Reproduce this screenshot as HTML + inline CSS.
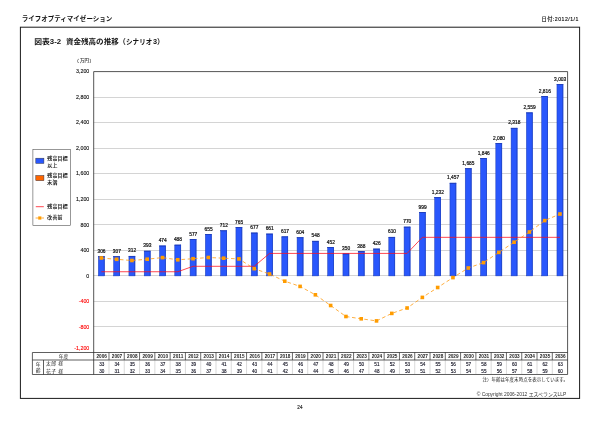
<!DOCTYPE html>
<html lang="ja"><head><meta charset="utf-8"><title>ライフオプティマイゼーション</title>
<style>html,body{margin:0;padding:0;background:#fff}body{width:600px;height:424px;overflow:hidden}svg{display:block}text{font-family:"Liberation Sans","Noto Sans CJK JP",sans-serif}</style>
</head><body>
<svg width="600" height="424" viewBox="0 0 600 424">
<rect width="600" height="424" fill="#fff"/>
<text x="21.7" y="20.9" font-size="6.7" font-weight="700" fill="#151515" textLength="90.6" lengthAdjust="spacingAndGlyphs">ライフオプティマイゼーション</text>
<text x="541.5" y="20.6" font-size="5.2" fill="#151515" stroke="#151515" stroke-width="0.15" textLength="36.9" lengthAdjust="spacing">日付:2012/1/1</text>
<rect x="20.4" y="27.2" width="559.2" height="371.2" fill="none" stroke="#1a1a1a" stroke-width="1"/>
<text y="44.4" font-size="7.3" font-weight="700" fill="#151515"><tspan x="34.2" textLength="26.9" lengthAdjust="spacingAndGlyphs">図表3-2</tspan><tspan x="65.9" textLength="52.9" lengthAdjust="spacingAndGlyphs">資金残高の推移</tspan><tspan x="118.4">（</tspan><tspan x="126.1" textLength="26.1" lengthAdjust="spacingAndGlyphs">シナリオ</tspan><tspan x="152.9">3</tspan><tspan x="157.0">）</tspan></text>
<text y="62.1" font-size="4.4" fill="#222" stroke="#222" stroke-width="0.1"><tspan x="74.6">（</tspan><tspan x="80.0">万円</tspan><tspan x="89.6">）</tspan></text>
<line x1="93.70" y1="97.50" x2="567.60" y2="97.50" stroke="#b0b0b0" stroke-width="0.55"/>
<line x1="93.70" y1="122.50" x2="567.60" y2="122.50" stroke="#b0b0b0" stroke-width="0.55"/>
<line x1="93.70" y1="148.50" x2="567.60" y2="148.50" stroke="#b0b0b0" stroke-width="0.55"/>
<line x1="93.70" y1="173.50" x2="567.60" y2="173.50" stroke="#b0b0b0" stroke-width="0.55"/>
<line x1="93.70" y1="199.50" x2="567.60" y2="199.50" stroke="#b0b0b0" stroke-width="0.55"/>
<line x1="93.70" y1="224.50" x2="567.60" y2="224.50" stroke="#b0b0b0" stroke-width="0.55"/>
<line x1="93.70" y1="250.50" x2="567.60" y2="250.50" stroke="#b0b0b0" stroke-width="0.55"/>
<line x1="93.70" y1="275.50" x2="567.60" y2="275.50" stroke="#b0b0b0" stroke-width="0.55"/>
<line x1="93.70" y1="301.50" x2="567.60" y2="301.50" stroke="#b0b0b0" stroke-width="0.55"/>
<line x1="93.70" y1="326.50" x2="567.60" y2="326.50" stroke="#b0b0b0" stroke-width="0.55"/>
<text x="89.3" y="73.30" font-size="5.3" fill="#111" stroke="#111" stroke-width="0.12" text-anchor="end">3,200</text>
<text x="89.3" y="98.84" font-size="5.3" fill="#111" stroke="#111" stroke-width="0.12" text-anchor="end">2,800</text>
<text x="89.3" y="124.37" font-size="5.3" fill="#111" stroke="#111" stroke-width="0.12" text-anchor="end">2,400</text>
<text x="89.3" y="149.91" font-size="5.3" fill="#111" stroke="#111" stroke-width="0.12" text-anchor="end">2,000</text>
<text x="89.3" y="175.45" font-size="5.3" fill="#111" stroke="#111" stroke-width="0.12" text-anchor="end">1,600</text>
<text x="89.3" y="200.98" font-size="5.3" fill="#111" stroke="#111" stroke-width="0.12" text-anchor="end">1,200</text>
<text x="89.3" y="226.52" font-size="5.3" fill="#111" stroke="#111" stroke-width="0.12" text-anchor="end">800</text>
<text x="89.3" y="252.05" font-size="5.3" fill="#111" stroke="#111" stroke-width="0.12" text-anchor="end">400</text>
<text x="89.3" y="277.59" font-size="5.3" fill="#111" stroke="#111" stroke-width="0.12" text-anchor="end">0</text>
<text x="89.3" y="303.13" font-size="5.3" fill="#f00" stroke="#f00" stroke-width="0.12" text-anchor="end">-400</text>
<text x="89.3" y="328.66" font-size="5.3" fill="#f00" stroke="#f00" stroke-width="0.12" text-anchor="end">-800</text>
<text x="89.3" y="349.90" font-size="5.3" fill="#f00" stroke="#f00" stroke-width="0.12" text-anchor="end">-1,200</text>
<rect x="98.34" y="256.61" width="6.00" height="19.29" fill="#2957fc" stroke="#1c3cb4" stroke-width="0.5"/>
<rect x="98.09" y="256.36" width="6.50" height="0.8" fill="#1838b8"/>
<rect x="103.79" y="256.36" width="0.8" height="19.54" fill="#1d44d0"/>
<text x="101.54" y="252.86" font-size="4.85" fill="#111" stroke="#111" stroke-width="0.2" text-anchor="middle">306</text>
<rect x="113.63" y="256.54" width="6.00" height="19.35" fill="#2957fc" stroke="#1c3cb4" stroke-width="0.5"/>
<rect x="113.38" y="256.29" width="6.50" height="0.8" fill="#1838b8"/>
<rect x="119.08" y="256.29" width="0.8" height="19.60" fill="#1d44d0"/>
<text x="116.83" y="252.79" font-size="4.85" fill="#111" stroke="#111" stroke-width="0.2" text-anchor="middle">307</text>
<rect x="128.92" y="256.22" width="6.00" height="19.67" fill="#2957fc" stroke="#1c3cb4" stroke-width="0.5"/>
<rect x="128.67" y="255.97" width="6.50" height="0.8" fill="#1838b8"/>
<rect x="134.37" y="255.97" width="0.8" height="19.92" fill="#1d44d0"/>
<text x="132.12" y="252.47" font-size="4.85" fill="#111" stroke="#111" stroke-width="0.2" text-anchor="middle">312</text>
<rect x="144.20" y="251.05" width="6.00" height="24.84" fill="#2957fc" stroke="#1c3cb4" stroke-width="0.5"/>
<rect x="143.95" y="250.80" width="6.50" height="0.8" fill="#1838b8"/>
<rect x="149.65" y="250.80" width="0.8" height="25.09" fill="#1d44d0"/>
<text x="147.40" y="247.30" font-size="4.85" fill="#111" stroke="#111" stroke-width="0.2" text-anchor="middle">393</text>
<rect x="159.49" y="245.88" width="6.00" height="30.01" fill="#2957fc" stroke="#1c3cb4" stroke-width="0.5"/>
<rect x="159.24" y="245.63" width="6.50" height="0.8" fill="#1838b8"/>
<rect x="164.94" y="245.63" width="0.8" height="30.26" fill="#1d44d0"/>
<text x="162.69" y="242.13" font-size="4.85" fill="#111" stroke="#111" stroke-width="0.2" text-anchor="middle">474</text>
<rect x="174.78" y="244.99" width="6.00" height="30.90" fill="#2957fc" stroke="#1c3cb4" stroke-width="0.5"/>
<rect x="174.53" y="244.74" width="6.50" height="0.8" fill="#1838b8"/>
<rect x="180.23" y="244.74" width="0.8" height="31.15" fill="#1d44d0"/>
<text x="177.98" y="241.24" font-size="4.85" fill="#111" stroke="#111" stroke-width="0.2" text-anchor="middle">488</text>
<rect x="190.07" y="239.30" width="6.00" height="36.59" fill="#2957fc" stroke="#1c3cb4" stroke-width="0.5"/>
<rect x="189.82" y="239.05" width="6.50" height="0.8" fill="#1838b8"/>
<rect x="195.52" y="239.05" width="0.8" height="36.84" fill="#1d44d0"/>
<text x="193.27" y="235.55" font-size="4.85" fill="#111" stroke="#111" stroke-width="0.2" text-anchor="middle">577</text>
<rect x="205.35" y="234.33" width="6.00" height="41.57" fill="#2957fc" stroke="#1c3cb4" stroke-width="0.5"/>
<rect x="205.10" y="234.08" width="6.50" height="0.8" fill="#1838b8"/>
<rect x="210.80" y="234.08" width="0.8" height="41.82" fill="#1d44d0"/>
<text x="208.55" y="230.58" font-size="4.85" fill="#111" stroke="#111" stroke-width="0.2" text-anchor="middle">655</text>
<rect x="220.64" y="230.69" width="6.00" height="45.20" fill="#2957fc" stroke="#1c3cb4" stroke-width="0.5"/>
<rect x="220.39" y="230.44" width="6.50" height="0.8" fill="#1838b8"/>
<rect x="226.09" y="230.44" width="0.8" height="45.45" fill="#1d44d0"/>
<text x="223.84" y="226.94" font-size="4.85" fill="#111" stroke="#111" stroke-width="0.2" text-anchor="middle">712</text>
<rect x="235.93" y="227.30" width="6.00" height="48.59" fill="#2957fc" stroke="#1c3cb4" stroke-width="0.5"/>
<rect x="235.68" y="227.05" width="6.50" height="0.8" fill="#1838b8"/>
<rect x="241.38" y="227.05" width="0.8" height="48.84" fill="#1d44d0"/>
<text x="239.13" y="223.55" font-size="4.85" fill="#111" stroke="#111" stroke-width="0.2" text-anchor="middle">765</text>
<rect x="251.21" y="232.92" width="6.00" height="42.97" fill="#2957fc" stroke="#1c3cb4" stroke-width="0.5"/>
<rect x="250.96" y="232.67" width="6.50" height="0.8" fill="#1838b8"/>
<rect x="256.66" y="232.67" width="0.8" height="43.22" fill="#1d44d0"/>
<text x="254.41" y="229.17" font-size="4.85" fill="#111" stroke="#111" stroke-width="0.2" text-anchor="middle">677</text>
<rect x="266.50" y="233.94" width="6.00" height="41.95" fill="#2957fc" stroke="#1c3cb4" stroke-width="0.5"/>
<rect x="266.25" y="233.69" width="6.50" height="0.8" fill="#1838b8"/>
<rect x="271.95" y="233.69" width="0.8" height="42.20" fill="#1d44d0"/>
<text x="269.70" y="230.19" font-size="4.85" fill="#111" stroke="#111" stroke-width="0.2" text-anchor="middle">661</text>
<rect x="281.79" y="236.75" width="6.00" height="39.14" fill="#2957fc" stroke="#1c3cb4" stroke-width="0.5"/>
<rect x="281.54" y="236.50" width="6.50" height="0.8" fill="#1838b8"/>
<rect x="287.24" y="236.50" width="0.8" height="39.39" fill="#1d44d0"/>
<text x="284.99" y="233.00" font-size="4.85" fill="#111" stroke="#111" stroke-width="0.2" text-anchor="middle">617</text>
<rect x="297.08" y="237.58" width="6.00" height="38.31" fill="#2957fc" stroke="#1c3cb4" stroke-width="0.5"/>
<rect x="296.83" y="237.33" width="6.50" height="0.8" fill="#1838b8"/>
<rect x="302.53" y="237.33" width="0.8" height="38.56" fill="#1d44d0"/>
<text x="300.28" y="233.83" font-size="4.85" fill="#111" stroke="#111" stroke-width="0.2" text-anchor="middle">604</text>
<rect x="312.36" y="241.16" width="6.00" height="34.73" fill="#2957fc" stroke="#1c3cb4" stroke-width="0.5"/>
<rect x="312.11" y="240.91" width="6.50" height="0.8" fill="#1838b8"/>
<rect x="317.81" y="240.91" width="0.8" height="34.98" fill="#1d44d0"/>
<text x="315.56" y="237.41" font-size="4.85" fill="#111" stroke="#111" stroke-width="0.2" text-anchor="middle">548</text>
<rect x="327.65" y="247.28" width="6.00" height="28.61" fill="#2957fc" stroke="#1c3cb4" stroke-width="0.5"/>
<rect x="327.40" y="247.03" width="6.50" height="0.8" fill="#1838b8"/>
<rect x="333.10" y="247.03" width="0.8" height="28.86" fill="#1d44d0"/>
<text x="330.85" y="243.53" font-size="4.85" fill="#111" stroke="#111" stroke-width="0.2" text-anchor="middle">452</text>
<rect x="342.94" y="253.80" width="6.00" height="22.09" fill="#2957fc" stroke="#1c3cb4" stroke-width="0.5"/>
<rect x="342.69" y="253.55" width="6.50" height="0.8" fill="#1838b8"/>
<rect x="348.39" y="253.55" width="0.8" height="22.34" fill="#1d44d0"/>
<text x="346.14" y="250.05" font-size="4.85" fill="#111" stroke="#111" stroke-width="0.2" text-anchor="middle">350</text>
<rect x="358.22" y="251.37" width="6.00" height="24.52" fill="#2957fc" stroke="#1c3cb4" stroke-width="0.5"/>
<rect x="357.97" y="251.12" width="6.50" height="0.8" fill="#1838b8"/>
<rect x="363.67" y="251.12" width="0.8" height="24.77" fill="#1d44d0"/>
<text x="361.42" y="247.62" font-size="4.85" fill="#111" stroke="#111" stroke-width="0.2" text-anchor="middle">388</text>
<rect x="373.51" y="248.94" width="6.00" height="26.95" fill="#2957fc" stroke="#1c3cb4" stroke-width="0.5"/>
<rect x="373.26" y="248.69" width="6.50" height="0.8" fill="#1838b8"/>
<rect x="378.96" y="248.69" width="0.8" height="27.20" fill="#1d44d0"/>
<text x="376.71" y="245.19" font-size="4.85" fill="#111" stroke="#111" stroke-width="0.2" text-anchor="middle">426</text>
<rect x="388.80" y="237.20" width="6.00" height="38.69" fill="#2957fc" stroke="#1c3cb4" stroke-width="0.5"/>
<rect x="388.55" y="236.95" width="6.50" height="0.8" fill="#1838b8"/>
<rect x="394.25" y="236.95" width="0.8" height="38.94" fill="#1d44d0"/>
<text x="392.00" y="233.45" font-size="4.85" fill="#111" stroke="#111" stroke-width="0.2" text-anchor="middle">610</text>
<rect x="404.09" y="226.98" width="6.00" height="48.91" fill="#2957fc" stroke="#1c3cb4" stroke-width="0.5"/>
<rect x="403.84" y="226.73" width="6.50" height="0.8" fill="#1838b8"/>
<rect x="409.54" y="226.73" width="0.8" height="49.16" fill="#1d44d0"/>
<text x="407.29" y="223.23" font-size="4.85" fill="#111" stroke="#111" stroke-width="0.2" text-anchor="middle">770</text>
<rect x="419.37" y="212.36" width="6.00" height="63.53" fill="#2957fc" stroke="#1c3cb4" stroke-width="0.5"/>
<rect x="419.12" y="212.11" width="6.50" height="0.8" fill="#1838b8"/>
<rect x="424.82" y="212.11" width="0.8" height="63.78" fill="#1d44d0"/>
<text x="422.57" y="208.61" font-size="4.85" fill="#111" stroke="#111" stroke-width="0.2" text-anchor="middle">999</text>
<rect x="434.66" y="197.49" width="6.00" height="78.40" fill="#2957fc" stroke="#1c3cb4" stroke-width="0.5"/>
<rect x="434.41" y="197.24" width="6.50" height="0.8" fill="#1838b8"/>
<rect x="440.11" y="197.24" width="0.8" height="78.65" fill="#1d44d0"/>
<text x="437.86" y="193.74" font-size="4.85" fill="#111" stroke="#111" stroke-width="0.2" text-anchor="middle">1,232</text>
<rect x="449.95" y="183.12" width="6.00" height="92.77" fill="#2957fc" stroke="#1c3cb4" stroke-width="0.5"/>
<rect x="449.70" y="182.87" width="6.50" height="0.8" fill="#1838b8"/>
<rect x="455.40" y="182.87" width="0.8" height="93.02" fill="#1d44d0"/>
<text x="453.15" y="179.37" font-size="4.85" fill="#111" stroke="#111" stroke-width="0.2" text-anchor="middle">1,457</text>
<rect x="465.23" y="168.57" width="6.00" height="107.32" fill="#2957fc" stroke="#1c3cb4" stroke-width="0.5"/>
<rect x="464.98" y="168.32" width="6.50" height="0.8" fill="#1838b8"/>
<rect x="470.68" y="168.32" width="0.8" height="107.57" fill="#1d44d0"/>
<text x="468.43" y="164.82" font-size="4.85" fill="#111" stroke="#111" stroke-width="0.2" text-anchor="middle">1,685</text>
<rect x="480.52" y="158.29" width="6.00" height="117.60" fill="#2957fc" stroke="#1c3cb4" stroke-width="0.5"/>
<rect x="480.27" y="158.04" width="6.50" height="0.8" fill="#1838b8"/>
<rect x="485.97" y="158.04" width="0.8" height="117.85" fill="#1d44d0"/>
<text x="483.72" y="154.54" font-size="4.85" fill="#111" stroke="#111" stroke-width="0.2" text-anchor="middle">1,846</text>
<rect x="495.81" y="143.35" width="6.00" height="132.54" fill="#2957fc" stroke="#1c3cb4" stroke-width="0.5"/>
<rect x="495.56" y="143.10" width="6.50" height="0.8" fill="#1838b8"/>
<rect x="501.26" y="143.10" width="0.8" height="132.79" fill="#1d44d0"/>
<text x="499.01" y="139.60" font-size="4.85" fill="#111" stroke="#111" stroke-width="0.2" text-anchor="middle">2,080</text>
<rect x="511.10" y="128.16" width="6.00" height="147.73" fill="#2957fc" stroke="#1c3cb4" stroke-width="0.5"/>
<rect x="510.85" y="127.91" width="6.50" height="0.8" fill="#1838b8"/>
<rect x="516.55" y="127.91" width="0.8" height="147.98" fill="#1d44d0"/>
<text x="514.30" y="124.41" font-size="4.85" fill="#111" stroke="#111" stroke-width="0.2" text-anchor="middle">2,318</text>
<rect x="526.38" y="112.77" width="6.00" height="163.12" fill="#2957fc" stroke="#1c3cb4" stroke-width="0.5"/>
<rect x="526.13" y="112.52" width="6.50" height="0.8" fill="#1838b8"/>
<rect x="531.83" y="112.52" width="0.8" height="163.37" fill="#1d44d0"/>
<text x="529.58" y="109.02" font-size="4.85" fill="#111" stroke="#111" stroke-width="0.2" text-anchor="middle">2,559</text>
<rect x="541.67" y="96.36" width="6.00" height="179.53" fill="#2957fc" stroke="#1c3cb4" stroke-width="0.5"/>
<rect x="541.42" y="96.11" width="6.50" height="0.8" fill="#1838b8"/>
<rect x="547.12" y="96.11" width="0.8" height="179.78" fill="#1d44d0"/>
<text x="544.87" y="92.61" font-size="4.85" fill="#111" stroke="#111" stroke-width="0.2" text-anchor="middle">2,816</text>
<rect x="556.96" y="84.43" width="6.00" height="191.46" fill="#2957fc" stroke="#1c3cb4" stroke-width="0.5"/>
<rect x="556.71" y="84.18" width="6.50" height="0.8" fill="#1838b8"/>
<rect x="562.41" y="84.18" width="0.8" height="191.71" fill="#1d44d0"/>
<text x="560.16" y="80.68" font-size="4.85" fill="#111" stroke="#111" stroke-width="0.2" text-anchor="middle">3,003</text>
<polyline points="101.34,271.74 116.63,271.74 131.92,271.74 147.20,271.74 162.49,271.74 177.78,271.74 193.07,266.31 208.35,266.31 223.64,266.31 238.93,266.31 254.21,266.31 269.50,253.42 284.79,253.42 300.08,253.42 315.36,253.42 330.65,253.42 345.94,253.42 361.22,253.42 376.51,253.42 391.80,253.42 407.09,253.42 422.37,237.33 437.66,237.33 452.95,237.33 468.23,237.33 483.52,237.33 498.81,237.33 514.10,237.33 529.38,237.33 544.67,237.33 559.96,237.33" fill="none" stroke="#ff0c18" stroke-width="0.75"/>
<polyline points="101.34,258.00 116.63,259.30 131.92,260.50 147.20,259.20 162.49,257.60 177.78,259.80 193.07,258.70 208.35,257.50 223.64,258.20 238.93,258.90 254.21,268.70 269.50,274.00 284.79,281.20 300.08,286.40 315.36,294.80 330.65,305.50 345.94,316.50 361.22,318.80 376.51,320.90 391.80,313.40 407.09,308.00 422.37,297.40 437.66,287.50 452.95,277.60 468.23,268.00 483.52,262.60 498.81,252.40 514.10,242.20 529.38,232.00 544.67,220.60 559.96,214.00" fill="none" stroke="#ff9a10" stroke-width="0.8" stroke-dasharray="3.6 2.6"/>
<rect x="99.54" y="256.20" width="3.6" height="3.6" fill="#ff9c00"/>
<rect x="114.83" y="257.50" width="3.6" height="3.6" fill="#ff9c00"/>
<rect x="130.12" y="258.70" width="3.6" height="3.6" fill="#ff9c00"/>
<rect x="145.40" y="257.40" width="3.6" height="3.6" fill="#ff9c00"/>
<rect x="160.69" y="255.80" width="3.6" height="3.6" fill="#ff9c00"/>
<rect x="175.98" y="258.00" width="3.6" height="3.6" fill="#ff9c00"/>
<rect x="191.27" y="256.90" width="3.6" height="3.6" fill="#ff9c00"/>
<rect x="206.55" y="255.70" width="3.6" height="3.6" fill="#ff9c00"/>
<rect x="221.84" y="256.40" width="3.6" height="3.6" fill="#ff9c00"/>
<rect x="237.13" y="257.10" width="3.6" height="3.6" fill="#ff9c00"/>
<rect x="252.41" y="266.90" width="3.6" height="3.6" fill="#ff9c00"/>
<rect x="267.70" y="272.20" width="3.6" height="3.6" fill="#ff9c00"/>
<rect x="282.99" y="279.40" width="3.6" height="3.6" fill="#ff9c00"/>
<rect x="298.28" y="284.60" width="3.6" height="3.6" fill="#ff9c00"/>
<rect x="313.56" y="293.00" width="3.6" height="3.6" fill="#ff9c00"/>
<rect x="328.85" y="303.70" width="3.6" height="3.6" fill="#ff9c00"/>
<rect x="344.14" y="314.70" width="3.6" height="3.6" fill="#ff9c00"/>
<rect x="359.42" y="317.00" width="3.6" height="3.6" fill="#ff9c00"/>
<rect x="374.71" y="319.10" width="3.6" height="3.6" fill="#ff9c00"/>
<rect x="390.00" y="311.60" width="3.6" height="3.6" fill="#ff9c00"/>
<rect x="405.29" y="306.20" width="3.6" height="3.6" fill="#ff9c00"/>
<rect x="420.57" y="295.60" width="3.6" height="3.6" fill="#ff9c00"/>
<rect x="435.86" y="285.70" width="3.6" height="3.6" fill="#ff9c00"/>
<rect x="451.15" y="275.80" width="3.6" height="3.6" fill="#ff9c00"/>
<rect x="466.43" y="266.20" width="3.6" height="3.6" fill="#ff9c00"/>
<rect x="481.72" y="260.80" width="3.6" height="3.6" fill="#ff9c00"/>
<rect x="497.01" y="250.60" width="3.6" height="3.6" fill="#ff9c00"/>
<rect x="512.30" y="240.40" width="3.6" height="3.6" fill="#ff9c00"/>
<rect x="527.58" y="230.20" width="3.6" height="3.6" fill="#ff9c00"/>
<rect x="542.87" y="218.80" width="3.6" height="3.6" fill="#ff9c00"/>
<rect x="558.16" y="212.20" width="3.6" height="3.6" fill="#ff9c00"/>
<path d="M93.70 374.50 V71.60 H567.60 V374.50" fill="none" stroke="#2a2a2a" stroke-width="0.8"/>
<path d="M32.40 352.50 H567.60 M32.40 360.00 H567.60 M32.40 374.50 H567.60 M32.40 352.50 V374.50 M43.50 360.00 V374.50" fill="none" stroke="#2a2a2a" stroke-width="0.75"/>
<line x1="108.99" y1="352.50" x2="108.99" y2="360.00" stroke="#2a2a2a" stroke-width="0.7"/>
<line x1="108.99" y1="360.00" x2="108.99" y2="374.50" stroke="#777" stroke-width="0.28"/>
<line x1="124.27" y1="352.50" x2="124.27" y2="360.00" stroke="#2a2a2a" stroke-width="0.7"/>
<line x1="124.27" y1="360.00" x2="124.27" y2="374.50" stroke="#777" stroke-width="0.28"/>
<line x1="139.56" y1="352.50" x2="139.56" y2="360.00" stroke="#2a2a2a" stroke-width="0.7"/>
<line x1="139.56" y1="360.00" x2="139.56" y2="374.50" stroke="#777" stroke-width="0.28"/>
<line x1="154.85" y1="352.50" x2="154.85" y2="360.00" stroke="#2a2a2a" stroke-width="0.7"/>
<line x1="154.85" y1="360.00" x2="154.85" y2="374.50" stroke="#777" stroke-width="0.28"/>
<line x1="170.14" y1="352.50" x2="170.14" y2="360.00" stroke="#2a2a2a" stroke-width="0.7"/>
<line x1="170.14" y1="360.00" x2="170.14" y2="374.50" stroke="#777" stroke-width="0.28"/>
<line x1="185.42" y1="352.50" x2="185.42" y2="360.00" stroke="#2a2a2a" stroke-width="0.7"/>
<line x1="185.42" y1="360.00" x2="185.42" y2="374.50" stroke="#777" stroke-width="0.28"/>
<line x1="200.71" y1="352.50" x2="200.71" y2="360.00" stroke="#2a2a2a" stroke-width="0.7"/>
<line x1="200.71" y1="360.00" x2="200.71" y2="374.50" stroke="#777" stroke-width="0.28"/>
<line x1="216.00" y1="352.50" x2="216.00" y2="360.00" stroke="#2a2a2a" stroke-width="0.7"/>
<line x1="216.00" y1="360.00" x2="216.00" y2="374.50" stroke="#777" stroke-width="0.28"/>
<line x1="231.28" y1="352.50" x2="231.28" y2="360.00" stroke="#2a2a2a" stroke-width="0.7"/>
<line x1="231.28" y1="360.00" x2="231.28" y2="374.50" stroke="#777" stroke-width="0.28"/>
<line x1="246.57" y1="352.50" x2="246.57" y2="360.00" stroke="#2a2a2a" stroke-width="0.7"/>
<line x1="246.57" y1="360.00" x2="246.57" y2="374.50" stroke="#777" stroke-width="0.28"/>
<line x1="261.86" y1="352.50" x2="261.86" y2="360.00" stroke="#2a2a2a" stroke-width="0.7"/>
<line x1="261.86" y1="360.00" x2="261.86" y2="374.50" stroke="#777" stroke-width="0.28"/>
<line x1="277.15" y1="352.50" x2="277.15" y2="360.00" stroke="#2a2a2a" stroke-width="0.7"/>
<line x1="277.15" y1="360.00" x2="277.15" y2="374.50" stroke="#777" stroke-width="0.28"/>
<line x1="292.43" y1="352.50" x2="292.43" y2="360.00" stroke="#2a2a2a" stroke-width="0.7"/>
<line x1="292.43" y1="360.00" x2="292.43" y2="374.50" stroke="#777" stroke-width="0.28"/>
<line x1="307.72" y1="352.50" x2="307.72" y2="360.00" stroke="#2a2a2a" stroke-width="0.7"/>
<line x1="307.72" y1="360.00" x2="307.72" y2="374.50" stroke="#777" stroke-width="0.28"/>
<line x1="323.01" y1="352.50" x2="323.01" y2="360.00" stroke="#2a2a2a" stroke-width="0.7"/>
<line x1="323.01" y1="360.00" x2="323.01" y2="374.50" stroke="#777" stroke-width="0.28"/>
<line x1="338.29" y1="352.50" x2="338.29" y2="360.00" stroke="#2a2a2a" stroke-width="0.7"/>
<line x1="338.29" y1="360.00" x2="338.29" y2="374.50" stroke="#777" stroke-width="0.28"/>
<line x1="353.58" y1="352.50" x2="353.58" y2="360.00" stroke="#2a2a2a" stroke-width="0.7"/>
<line x1="353.58" y1="360.00" x2="353.58" y2="374.50" stroke="#777" stroke-width="0.28"/>
<line x1="368.87" y1="352.50" x2="368.87" y2="360.00" stroke="#2a2a2a" stroke-width="0.7"/>
<line x1="368.87" y1="360.00" x2="368.87" y2="374.50" stroke="#777" stroke-width="0.28"/>
<line x1="384.15" y1="352.50" x2="384.15" y2="360.00" stroke="#2a2a2a" stroke-width="0.7"/>
<line x1="384.15" y1="360.00" x2="384.15" y2="374.50" stroke="#777" stroke-width="0.28"/>
<line x1="399.44" y1="352.50" x2="399.44" y2="360.00" stroke="#2a2a2a" stroke-width="0.7"/>
<line x1="399.44" y1="360.00" x2="399.44" y2="374.50" stroke="#777" stroke-width="0.28"/>
<line x1="414.73" y1="352.50" x2="414.73" y2="360.00" stroke="#2a2a2a" stroke-width="0.7"/>
<line x1="414.73" y1="360.00" x2="414.73" y2="374.50" stroke="#777" stroke-width="0.28"/>
<line x1="430.02" y1="352.50" x2="430.02" y2="360.00" stroke="#2a2a2a" stroke-width="0.7"/>
<line x1="430.02" y1="360.00" x2="430.02" y2="374.50" stroke="#777" stroke-width="0.28"/>
<line x1="445.30" y1="352.50" x2="445.30" y2="360.00" stroke="#2a2a2a" stroke-width="0.7"/>
<line x1="445.30" y1="360.00" x2="445.30" y2="374.50" stroke="#777" stroke-width="0.28"/>
<line x1="460.59" y1="352.50" x2="460.59" y2="360.00" stroke="#2a2a2a" stroke-width="0.7"/>
<line x1="460.59" y1="360.00" x2="460.59" y2="374.50" stroke="#777" stroke-width="0.28"/>
<line x1="475.88" y1="352.50" x2="475.88" y2="360.00" stroke="#2a2a2a" stroke-width="0.7"/>
<line x1="475.88" y1="360.00" x2="475.88" y2="374.50" stroke="#777" stroke-width="0.28"/>
<line x1="491.16" y1="352.50" x2="491.16" y2="360.00" stroke="#2a2a2a" stroke-width="0.7"/>
<line x1="491.16" y1="360.00" x2="491.16" y2="374.50" stroke="#777" stroke-width="0.28"/>
<line x1="506.45" y1="352.50" x2="506.45" y2="360.00" stroke="#2a2a2a" stroke-width="0.7"/>
<line x1="506.45" y1="360.00" x2="506.45" y2="374.50" stroke="#777" stroke-width="0.28"/>
<line x1="521.74" y1="352.50" x2="521.74" y2="360.00" stroke="#2a2a2a" stroke-width="0.7"/>
<line x1="521.74" y1="360.00" x2="521.74" y2="374.50" stroke="#777" stroke-width="0.28"/>
<line x1="537.03" y1="352.50" x2="537.03" y2="360.00" stroke="#2a2a2a" stroke-width="0.7"/>
<line x1="537.03" y1="360.00" x2="537.03" y2="374.50" stroke="#777" stroke-width="0.28"/>
<line x1="552.31" y1="352.50" x2="552.31" y2="360.00" stroke="#2a2a2a" stroke-width="0.7"/>
<line x1="552.31" y1="360.00" x2="552.31" y2="374.50" stroke="#777" stroke-width="0.28"/>
<text x="63.5" y="357.9" font-size="4.8" fill="#222" text-anchor="middle">年度</text>
<text x="38.2" y="365.8" font-size="4.8" fill="#222" text-anchor="middle">年</text>
<text x="38.2" y="372.0" font-size="4.8" fill="#222" text-anchor="middle">齢</text>
<text x="46.0" y="365.4" font-size="4.8" fill="#222" textLength="17" lengthAdjust="spacing">太郎 様</text>
<text x="46.0" y="372.6" font-size="4.8" fill="#222" textLength="17" lengthAdjust="spacing">花子 様</text>
<text x="101.74" y="358.4" font-size="4.7" font-weight="700" fill="#222" text-anchor="middle">2006</text>
<text x="101.74" y="365.8" font-size="4.6" fill="#112" stroke="#112" stroke-width="0.12" text-anchor="middle">33</text>
<text x="101.74" y="373.3" font-size="4.6" fill="#112" stroke="#112" stroke-width="0.12" text-anchor="middle">30</text>
<text x="117.03" y="358.4" font-size="4.7" font-weight="700" fill="#222" text-anchor="middle">2007</text>
<text x="117.03" y="365.8" font-size="4.6" fill="#112" stroke="#112" stroke-width="0.12" text-anchor="middle">34</text>
<text x="117.03" y="373.3" font-size="4.6" fill="#112" stroke="#112" stroke-width="0.12" text-anchor="middle">31</text>
<text x="132.32" y="358.4" font-size="4.7" font-weight="700" fill="#222" text-anchor="middle">2008</text>
<text x="132.32" y="365.8" font-size="4.6" fill="#112" stroke="#112" stroke-width="0.12" text-anchor="middle">35</text>
<text x="132.32" y="373.3" font-size="4.6" fill="#112" stroke="#112" stroke-width="0.12" text-anchor="middle">32</text>
<text x="147.60" y="358.4" font-size="4.7" font-weight="700" fill="#222" text-anchor="middle">2009</text>
<text x="147.60" y="365.8" font-size="4.6" fill="#112" stroke="#112" stroke-width="0.12" text-anchor="middle">36</text>
<text x="147.60" y="373.3" font-size="4.6" fill="#112" stroke="#112" stroke-width="0.12" text-anchor="middle">33</text>
<text x="162.89" y="358.4" font-size="4.7" font-weight="700" fill="#222" text-anchor="middle">2010</text>
<text x="162.89" y="365.8" font-size="4.6" fill="#112" stroke="#112" stroke-width="0.12" text-anchor="middle">37</text>
<text x="162.89" y="373.3" font-size="4.6" fill="#112" stroke="#112" stroke-width="0.12" text-anchor="middle">34</text>
<text x="178.18" y="358.4" font-size="4.7" font-weight="700" fill="#222" text-anchor="middle">2011</text>
<text x="178.18" y="365.8" font-size="4.6" fill="#112" stroke="#112" stroke-width="0.12" text-anchor="middle">38</text>
<text x="178.18" y="373.3" font-size="4.6" fill="#112" stroke="#112" stroke-width="0.12" text-anchor="middle">35</text>
<text x="193.47" y="358.4" font-size="4.7" font-weight="700" fill="#222" text-anchor="middle">2012</text>
<text x="193.47" y="365.8" font-size="4.6" fill="#112" stroke="#112" stroke-width="0.12" text-anchor="middle">39</text>
<text x="193.47" y="373.3" font-size="4.6" fill="#112" stroke="#112" stroke-width="0.12" text-anchor="middle">36</text>
<text x="208.75" y="358.4" font-size="4.7" font-weight="700" fill="#222" text-anchor="middle">2013</text>
<text x="208.75" y="365.8" font-size="4.6" fill="#112" stroke="#112" stroke-width="0.12" text-anchor="middle">40</text>
<text x="208.75" y="373.3" font-size="4.6" fill="#112" stroke="#112" stroke-width="0.12" text-anchor="middle">37</text>
<text x="224.04" y="358.4" font-size="4.7" font-weight="700" fill="#222" text-anchor="middle">2014</text>
<text x="224.04" y="365.8" font-size="4.6" fill="#112" stroke="#112" stroke-width="0.12" text-anchor="middle">41</text>
<text x="224.04" y="373.3" font-size="4.6" fill="#112" stroke="#112" stroke-width="0.12" text-anchor="middle">38</text>
<text x="239.33" y="358.4" font-size="4.7" font-weight="700" fill="#222" text-anchor="middle">2015</text>
<text x="239.33" y="365.8" font-size="4.6" fill="#112" stroke="#112" stroke-width="0.12" text-anchor="middle">42</text>
<text x="239.33" y="373.3" font-size="4.6" fill="#112" stroke="#112" stroke-width="0.12" text-anchor="middle">39</text>
<text x="254.61" y="358.4" font-size="4.7" font-weight="700" fill="#222" text-anchor="middle">2016</text>
<text x="254.61" y="365.8" font-size="4.6" fill="#112" stroke="#112" stroke-width="0.12" text-anchor="middle">43</text>
<text x="254.61" y="373.3" font-size="4.6" fill="#112" stroke="#112" stroke-width="0.12" text-anchor="middle">40</text>
<text x="269.90" y="358.4" font-size="4.7" font-weight="700" fill="#222" text-anchor="middle">2017</text>
<text x="269.90" y="365.8" font-size="4.6" fill="#112" stroke="#112" stroke-width="0.12" text-anchor="middle">44</text>
<text x="269.90" y="373.3" font-size="4.6" fill="#112" stroke="#112" stroke-width="0.12" text-anchor="middle">41</text>
<text x="285.19" y="358.4" font-size="4.7" font-weight="700" fill="#222" text-anchor="middle">2018</text>
<text x="285.19" y="365.8" font-size="4.6" fill="#112" stroke="#112" stroke-width="0.12" text-anchor="middle">45</text>
<text x="285.19" y="373.3" font-size="4.6" fill="#112" stroke="#112" stroke-width="0.12" text-anchor="middle">42</text>
<text x="300.48" y="358.4" font-size="4.7" font-weight="700" fill="#222" text-anchor="middle">2019</text>
<text x="300.48" y="365.8" font-size="4.6" fill="#112" stroke="#112" stroke-width="0.12" text-anchor="middle">46</text>
<text x="300.48" y="373.3" font-size="4.6" fill="#112" stroke="#112" stroke-width="0.12" text-anchor="middle">43</text>
<text x="315.76" y="358.4" font-size="4.7" font-weight="700" fill="#222" text-anchor="middle">2020</text>
<text x="315.76" y="365.8" font-size="4.6" fill="#112" stroke="#112" stroke-width="0.12" text-anchor="middle">47</text>
<text x="315.76" y="373.3" font-size="4.6" fill="#112" stroke="#112" stroke-width="0.12" text-anchor="middle">44</text>
<text x="331.05" y="358.4" font-size="4.7" font-weight="700" fill="#222" text-anchor="middle">2021</text>
<text x="331.05" y="365.8" font-size="4.6" fill="#112" stroke="#112" stroke-width="0.12" text-anchor="middle">48</text>
<text x="331.05" y="373.3" font-size="4.6" fill="#112" stroke="#112" stroke-width="0.12" text-anchor="middle">45</text>
<text x="346.34" y="358.4" font-size="4.7" font-weight="700" fill="#222" text-anchor="middle">2022</text>
<text x="346.34" y="365.8" font-size="4.6" fill="#112" stroke="#112" stroke-width="0.12" text-anchor="middle">49</text>
<text x="346.34" y="373.3" font-size="4.6" fill="#112" stroke="#112" stroke-width="0.12" text-anchor="middle">46</text>
<text x="361.62" y="358.4" font-size="4.7" font-weight="700" fill="#222" text-anchor="middle">2023</text>
<text x="361.62" y="365.8" font-size="4.6" fill="#112" stroke="#112" stroke-width="0.12" text-anchor="middle">50</text>
<text x="361.62" y="373.3" font-size="4.6" fill="#112" stroke="#112" stroke-width="0.12" text-anchor="middle">47</text>
<text x="376.91" y="358.4" font-size="4.7" font-weight="700" fill="#222" text-anchor="middle">2024</text>
<text x="376.91" y="365.8" font-size="4.6" fill="#112" stroke="#112" stroke-width="0.12" text-anchor="middle">51</text>
<text x="376.91" y="373.3" font-size="4.6" fill="#112" stroke="#112" stroke-width="0.12" text-anchor="middle">48</text>
<text x="392.20" y="358.4" font-size="4.7" font-weight="700" fill="#222" text-anchor="middle">2025</text>
<text x="392.20" y="365.8" font-size="4.6" fill="#112" stroke="#112" stroke-width="0.12" text-anchor="middle">52</text>
<text x="392.20" y="373.3" font-size="4.6" fill="#112" stroke="#112" stroke-width="0.12" text-anchor="middle">49</text>
<text x="407.49" y="358.4" font-size="4.7" font-weight="700" fill="#222" text-anchor="middle">2026</text>
<text x="407.49" y="365.8" font-size="4.6" fill="#112" stroke="#112" stroke-width="0.12" text-anchor="middle">53</text>
<text x="407.49" y="373.3" font-size="4.6" fill="#112" stroke="#112" stroke-width="0.12" text-anchor="middle">50</text>
<text x="422.77" y="358.4" font-size="4.7" font-weight="700" fill="#222" text-anchor="middle">2027</text>
<text x="422.77" y="365.8" font-size="4.6" fill="#112" stroke="#112" stroke-width="0.12" text-anchor="middle">54</text>
<text x="422.77" y="373.3" font-size="4.6" fill="#112" stroke="#112" stroke-width="0.12" text-anchor="middle">51</text>
<text x="438.06" y="358.4" font-size="4.7" font-weight="700" fill="#222" text-anchor="middle">2028</text>
<text x="438.06" y="365.8" font-size="4.6" fill="#112" stroke="#112" stroke-width="0.12" text-anchor="middle">55</text>
<text x="438.06" y="373.3" font-size="4.6" fill="#112" stroke="#112" stroke-width="0.12" text-anchor="middle">52</text>
<text x="453.35" y="358.4" font-size="4.7" font-weight="700" fill="#222" text-anchor="middle">2029</text>
<text x="453.35" y="365.8" font-size="4.6" fill="#112" stroke="#112" stroke-width="0.12" text-anchor="middle">56</text>
<text x="453.35" y="373.3" font-size="4.6" fill="#112" stroke="#112" stroke-width="0.12" text-anchor="middle">53</text>
<text x="468.63" y="358.4" font-size="4.7" font-weight="700" fill="#222" text-anchor="middle">2030</text>
<text x="468.63" y="365.8" font-size="4.6" fill="#112" stroke="#112" stroke-width="0.12" text-anchor="middle">57</text>
<text x="468.63" y="373.3" font-size="4.6" fill="#112" stroke="#112" stroke-width="0.12" text-anchor="middle">54</text>
<text x="483.92" y="358.4" font-size="4.7" font-weight="700" fill="#222" text-anchor="middle">2031</text>
<text x="483.92" y="365.8" font-size="4.6" fill="#112" stroke="#112" stroke-width="0.12" text-anchor="middle">58</text>
<text x="483.92" y="373.3" font-size="4.6" fill="#112" stroke="#112" stroke-width="0.12" text-anchor="middle">55</text>
<text x="499.21" y="358.4" font-size="4.7" font-weight="700" fill="#222" text-anchor="middle">2032</text>
<text x="499.21" y="365.8" font-size="4.6" fill="#112" stroke="#112" stroke-width="0.12" text-anchor="middle">59</text>
<text x="499.21" y="373.3" font-size="4.6" fill="#112" stroke="#112" stroke-width="0.12" text-anchor="middle">56</text>
<text x="514.50" y="358.4" font-size="4.7" font-weight="700" fill="#222" text-anchor="middle">2033</text>
<text x="514.50" y="365.8" font-size="4.6" fill="#112" stroke="#112" stroke-width="0.12" text-anchor="middle">60</text>
<text x="514.50" y="373.3" font-size="4.6" fill="#112" stroke="#112" stroke-width="0.12" text-anchor="middle">57</text>
<text x="529.78" y="358.4" font-size="4.7" font-weight="700" fill="#222" text-anchor="middle">2034</text>
<text x="529.78" y="365.8" font-size="4.6" fill="#112" stroke="#112" stroke-width="0.12" text-anchor="middle">61</text>
<text x="529.78" y="373.3" font-size="4.6" fill="#112" stroke="#112" stroke-width="0.12" text-anchor="middle">58</text>
<text x="545.07" y="358.4" font-size="4.7" font-weight="700" fill="#222" text-anchor="middle">2035</text>
<text x="545.07" y="365.8" font-size="4.6" fill="#112" stroke="#112" stroke-width="0.12" text-anchor="middle">62</text>
<text x="545.07" y="373.3" font-size="4.6" fill="#112" stroke="#112" stroke-width="0.12" text-anchor="middle">59</text>
<text x="560.36" y="358.4" font-size="4.7" font-weight="700" fill="#222" text-anchor="middle">2036</text>
<text x="560.36" y="365.8" font-size="4.6" fill="#112" stroke="#112" stroke-width="0.12" text-anchor="middle">63</text>
<text x="560.36" y="373.3" font-size="4.6" fill="#112" stroke="#112" stroke-width="0.12" text-anchor="middle">60</text>
<text x="482.4" y="380.7" font-size="4.5" fill="#222" textLength="85.5" lengthAdjust="spacing">注）年齢は年度末時点を表示しています。</text>
<text x="566.3" y="395.5" font-size="4.9" fill="#333" text-anchor="end">© Copyright 2006-2012 エスペランスLLP</text>
<text x="299.9" y="408.6" font-size="4.6" fill="#222" stroke="#222" stroke-width="0.15" text-anchor="middle">24</text>
<rect x="32.9" y="149.3" width="37.6" height="76" fill="#fff" stroke="#444" stroke-width="0.55"/>
<rect x="35.8" y="158.20" width="8.1" height="5.2" fill="#2957fc" stroke="#334" stroke-width="0.5"/>
<text x="47.2" y="160.15" font-size="4.85" letter-spacing="0.35" fill="#111" stroke="#111" stroke-width="0.16">残高目標</text>
<text x="47.2" y="167.35" font-size="4.85" letter-spacing="0.35" fill="#111" stroke="#111" stroke-width="0.16">以上</text>
<rect x="35.8" y="175.50" width="8.1" height="5.2" fill="#ff6600" stroke="#334" stroke-width="0.5"/>
<text x="47.2" y="176.85" font-size="4.85" letter-spacing="0.35" fill="#111" stroke="#111" stroke-width="0.16">残高目標</text>
<text x="47.2" y="183.95" font-size="4.85" letter-spacing="0.35" fill="#111" stroke="#111" stroke-width="0.16">未満</text>
<line x1="35.8" y1="206.7" x2="43.8" y2="206.7" stroke="#ff0c18" stroke-width="0.75"/>
<text x="47.2" y="208.15" font-size="4.85" letter-spacing="0.35" fill="#111" stroke="#111" stroke-width="0.16">残高目標</text>
<path d="M35.6 218H38.2M41.4 218H44" stroke="#ff9a10" stroke-width="0.8" fill="none"/>
<rect x="38.2" y="216.4" width="3.2" height="3.2" fill="#ff9c00"/>
<text x="47.2" y="219.45" font-size="4.85" letter-spacing="0.35" fill="#111" stroke="#111" stroke-width="0.16">改善前</text>
</svg></body></html>
